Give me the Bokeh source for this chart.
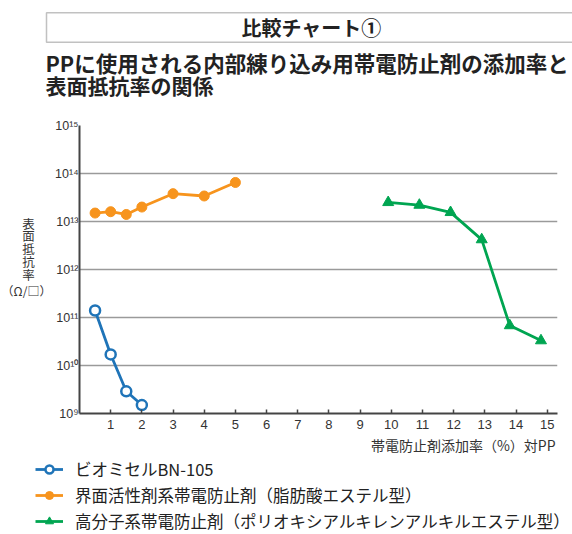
from bokeh.plotting import figure
from bokeh.layouts import column, row
from bokeh.models import (FixedTicker, CustomJSTickFormatter, Label, Legend,
                          LegendItem, BoxAnnotation, Range1d)
from bokeh.embed import file_html
from bokeh.resources import INLINE

# ---- data ----
header_text = "比較チャート①"
title_line1 = "PPに使用される内部練り込み用帯電防止剤の添加率と"
title_line2 = "表面抵抗率の関係"
y_label_chars = ["表", "面", "抵", "抗", "率"]
y_label_unit = "（Ω/□）"
x_label = "帯電防止剤添加率（%）対PP"

x_ticks = list(range(1, 16))
y_ticks = [1e9, 1e10, 1e11, 1e12, 1e13, 1e14, 1e15]

blue_name = "ビオミセルBN-105"
blue_x = [0.5, 1.0, 1.5, 2.0]
blue_y = [1.4e11, 1.7e10, 2.9e9, 1.5e9]

orange_name = "界面活性剤系帯電防止剤（脂肪酸エステル型）"
orange_x = [0.5, 1.0, 1.5, 2.0, 3.0, 4.0, 5.0]
orange_y = [1.5e13, 1.6e13, 1.4e13, 2.0e13, 3.8e13, 3.4e13, 6.5e13]

green_name = "高分子系帯電防止剤（ポリオキシアルキレンアルキルエステル型）"
green_x = [9.9, 10.9, 11.9, 12.9, 13.8, 14.8]
green_y = [2.5e13, 2.2e13, 1.55e13, 4.2e12, 6.8e10, 3.3e10]

BLUE = "#1f74b8"
ORANGE = "#f7941d"
GREEN = "#00a551"
JP = "Noto Sans CJK JP"
TXT = "#222222"
W = 572
NAN = float("nan")


def blank_fig(width, height):
    f = figure(width=width, height=height, x_range=Range1d(0, width),
               y_range=Range1d(height, 0), title=None,
               x_axis_location=None, y_axis_location=None,
               output_backend="svg", toolbar_location=None, min_border=0)
    f.grid.visible = False
    f.outline_line_color = None
    return f


# ---- header (box, title) ----
HEAD_H = 104
head = blank_fig(W, HEAD_H)
head.add_layout(BoxAnnotation(left=46, right=W + 20, top=12.3, bottom=41.7,
                              fill_color=None, fill_alpha=0,
                              line_color="#333333", line_width=1.5))
head.add_layout(Label(x=311, y=27, text=header_text, text_font=JP,
                      text_font_style="bold", text_font_size="20px",
                      text_color=TXT, text_align="center",
                      text_baseline="middle"))
head.add_layout(Label(x=45, y=62, text=title_line1, text_font=JP,
                      text_font_style="bold", text_font_size="21.5px",
                      text_color=TXT, text_align="left",
                      text_baseline="middle"))
head.add_layout(Label(x=45, y=84, text=title_line2, text_font=JP,
                      text_font_style="bold", text_font_size="21px",
                      text_color=TXT, text_align="left",
                      text_baseline="middle"))

# ---- y label column ----
MID_H = 330
YL_W = 52
ylab = blank_fig(YL_W, MID_H)
for i, ch in enumerate(y_label_chars):
    ylab.add_layout(Label(x=28, y=112 + i * 14.6, text=ch, text_font=JP,
                          text_font_size="12.5px", text_color="#333333",
                          text_align="center", text_baseline="middle"))
ylab.add_layout(Label(x=26, y=189, text=y_label_unit, text_font=JP,
                      text_font_size="12px", text_color="#333333",
                      text_align="center", text_baseline="middle"))

# ---- main chart ----
p = figure(width=W - YL_W, height=MID_H, x_range=Range1d(0, 15.33),
           y_range=Range1d(1e9, 1e15), y_axis_type="log", title=None,
           output_backend="svg", toolbar_location=None,
           min_border_left=24, min_border_right=15,
           min_border_top=21, min_border_bottom=21)
p.outline_line_color = None

p.xaxis.ticker = FixedTicker(ticks=x_ticks)
p.xaxis.major_tick_in = 4
p.xaxis.major_tick_out = 0
p.xaxis.minor_tick_line_color = None
p.xaxis.axis_line_color = "#444444"
p.xaxis.axis_line_width = 2
p.xaxis.major_tick_line_color = "#444444"
p.xaxis.major_tick_line_width = 1.5
p.xaxis.major_label_text_font = "Liberation Sans"
p.xaxis.major_label_text_font_size = "13px"
p.xaxis.major_label_text_color = "#333333"
p.xaxis.major_label_standoff = 6

p.yaxis.ticker = FixedTicker(ticks=y_ticks)
p.yaxis.formatter = CustomJSTickFormatter(code="""
const sup = {"0":"\u2070","1":"\u00b9","2":"\u00b2","3":"\u00b3","4":"\u2074","5":"\u2075","6":"\u2076","7":"\u2077","8":"\u2078","9":"\u2079"};
const e = Math.round(Math.log10(tick));
return "10" + String(e).split("").map(c => sup[c]).join("");
""")
p.yaxis.major_tick_in = 0
p.yaxis.major_tick_out = 0
p.yaxis.minor_tick_line_color = None
p.yaxis.axis_line_color = "#444444"
p.yaxis.axis_line_width = 2
p.yaxis.major_label_text_font = "Liberation Sans"
p.yaxis.major_label_text_font_size = "12.5px"
p.yaxis.major_label_text_color = "#333333"
p.yaxis.major_label_standoff = 1

p.xgrid.grid_line_color = None
p.ygrid.grid_line_color = "#9a9a9a"
p.ygrid.grid_line_width = 1.5
p.ygrid.minor_grid_line_color = None

bl = p.line(blue_x, blue_y, line_color=BLUE, line_width=2.8)
bs = p.scatter(blue_x, blue_y, marker="circle", size=10, line_color=BLUE,
               line_width=2.5, fill_color="white")
ol = p.line(orange_x, orange_y, line_color=ORANGE, line_width=2.8)
os_ = p.scatter(orange_x, orange_y, marker="circle", size=10,
                line_color=ORANGE, fill_color=ORANGE)
gl = p.line(green_x, green_y, line_color=GREEN, line_width=2.8)
gs = p.scatter(green_x, green_y, marker="triangle", size=11,
               line_color=GREEN, fill_color=GREEN)

# ---- bottom: x label and legend ----
BOT_H = 534 - HEAD_H - MID_H
bot = blank_fig(W, BOT_H)
bot.add_layout(Label(x=555, y=10, text=x_label, text_font=JP,
                     text_font_size="14px", text_color="#333333",
                     text_align="right", text_baseline="middle"))

# legend keys (styles only, no visible data in this panel)
lb_l = bot.line([NAN], [NAN], line_color=BLUE, line_width=2.8)
lb_s = bot.scatter([NAN], [NAN], marker="circle", size=10, line_color=BLUE,
                   line_width=2.5, fill_color="white")
lo_l = bot.line([NAN], [NAN], line_color=ORANGE, line_width=2.8)
lo_s = bot.scatter([NAN], [NAN], marker="circle", size=10,
                   line_color=ORANGE, fill_color=ORANGE)
lg_l = bot.line([NAN], [NAN], line_color=GREEN, line_width=2.8)
lg_s = bot.scatter([NAN], [NAN], marker="triangle", size=10,
                   line_color=GREEN, fill_color=GREEN)

legend = Legend(items=[
    LegendItem(label=blue_name, renderers=[lb_l, lb_s]),
    LegendItem(label=orange_name, renderers=[lo_l, lo_s]),
    LegendItem(label=green_name, renderers=[lg_l, lg_s]),
], location=(35, 1))
legend.label_text_font = JP
legend.label_text_font_size = "16.5px"
legend.label_text_color = TXT
legend.glyph_width = 28
legend.glyph_height = 20
legend.label_height = 20
legend.label_standoff = 12
legend.padding = 0
legend.margin = 0
legend.spacing = 2
legend.border_line_color = None
legend.background_fill_alpha = 0
bot.add_layout(legend)

layout = column(head, row(ylab, p), bot)
open("out.html", "w").write(file_html(layout, INLINE))
